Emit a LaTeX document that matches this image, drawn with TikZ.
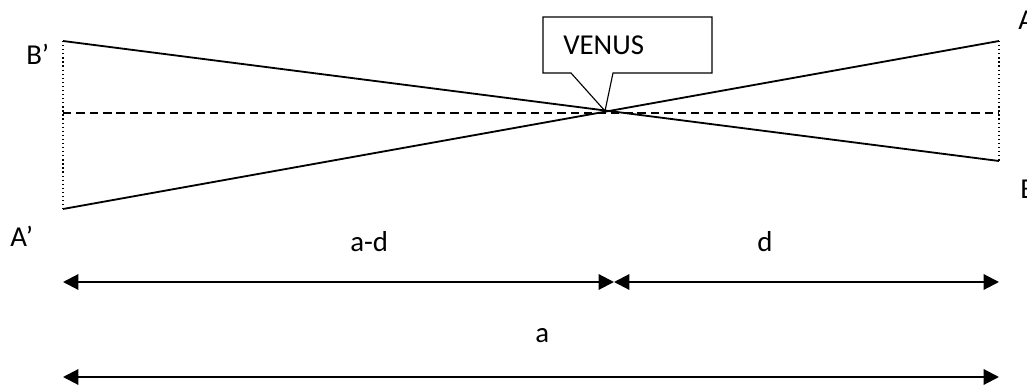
\documentclass[tikz,border=0pt]{standalone}
\usepackage{fontspec}
\setmainfont{Carlito}
\usetikzlibrary{arrows.meta}

\begin{document}
\begin{tikzpicture}[x=0.025cm,y=-0.025cm,inner sep=0pt,
  lbl/.style={anchor=base west,font=\fontsize{20.5}{24}\selectfont},
  ray/.style={line width=1.3pt},
  axis/.style={dashed,line width=1pt,dash pattern=on 6pt off 3.5pt},
  edge/.style={dotted,line width=0.9pt},
  dim/.style={{Triangle[length=11pt,width=11pt]}-{Triangle[length=11pt,width=11pt]},line width=1.5pt}]
\useasboundingbox (0,0) rectangle (1027,385);
\coordinate (Bp) at (63,41);
\coordinate (Ap) at (63,209);
\coordinate (A) at (999,41);
\coordinate (B) at (999,161);
\coordinate (V) at (605,111);
\coordinate (ml) at (63,113);
\coordinate (mr) at (999,113);

\draw [axis] (ml) -- (mr);
\draw [edge] (Bp) -- (Ap);
\draw [edge] (A) -- (B);
\draw [ray] (Bp) -- (B);
\draw [ray] (Ap) -- (A);

% callout
\draw [line width=0.8pt,line join=miter]
  (543,17) -- (712,17) -- (712,73) -- (613,73) -- (V) -- (571,73) -- (543,73) -- cycle;
\node [lbl] (venus) at (563,55) {VENUS};

\node [lbl] (lBp) at (26,65) {B’};
\node [lbl] (lAp) at (10,247) {A’};
\node [lbl] (lA) at (1018,30) {A};
\node [lbl] (lB) at (1020,199) {B};

% distances
\coordinate (L1) at (63,282);
\coordinate (M1) at (614,282);
\coordinate (R1) at (999,282);
\coordinate (L2) at (63,377);
\coordinate (R2) at (999,377);
\draw [dim] (L1) -- (M1);
\draw [dim] (M1) -- (R1);
\draw [dim] (L2) -- (R2);
\node [lbl] (lad) at (350,252) {a-d};
\node [lbl] (ld) at (757,252) {d};
\node [lbl] (la) at (535,343) {a};
\end{tikzpicture}
\end{document}
